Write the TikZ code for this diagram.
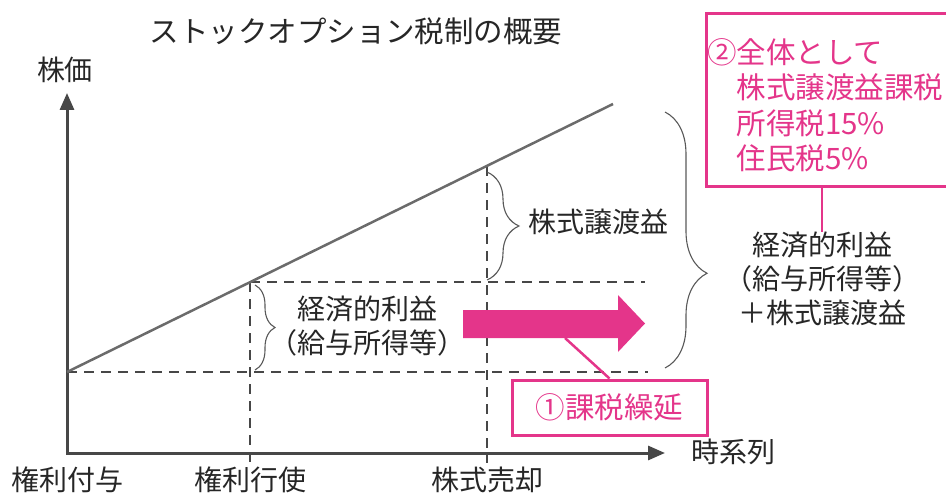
\documentclass[tikz,border=0pt]{standalone}
\usepackage{fontspec}
\setmainfont{Noto Sans CJK JP}
\usetikzlibrary{arrows.meta,decorations.pathreplacing,positioning}
\definecolor{sopink}{HTML}{E4358A}
\definecolor{axisgray}{HTML}{474747}
\definecolor{txtgray}{HTML}{262626}
\tikzset{
  axis/.style={line width=3pt, axisgray},
  price/.style={line width=2.5pt, black!58},
  guide/.style={line width=1.5pt, axisgray, dash pattern=on 10pt off 7pt},
  curly/.style={line width=1.1pt, black!65, decorate, decoration={brace, amplitude=#1}},
  lbl/.style={font=\fontsize{28}{34}\selectfont, text=txtgray, inner sep=0pt},
  pinkbox/.style={draw=sopink, line width=3pt},
  pinktxt/.style={text=sopink, inner sep=0pt, font=\fontsize{29.5}{35.5}\selectfont},
  pinkline/.style={draw=sopink, line width=2.5pt},
}
\begin{document}
\begin{tikzpicture}[x=1pt, y=-1pt]
  \useasboundingbox (0,0) rectangle (946,495);
  \def\xo{67}   % origin
  \def\yo{453}
  \def\yg{372}  % price at grant
  \def\xe{250}  % exercise
  \def\ye{282}
  \def\xs{487}  % sale
  \def\ys{166}
  \node[lbl, font=\fontsize{29.5}{34}\selectfont] (title) at (356,31) {ストックオプション税制の概要};
  \draw[axis, {Triangle[length=17pt,width=14pt]}-{Triangle[length=17pt,width=14pt]}]
    (\xo,93) -- (\xo,\yo) -- (665,\yo);
  \node[lbl] (price) at (65,70) {株価};
  \node[lbl] (time) at (733,452) {時系列};
  \node[lbl] (grantlbl) at (68,480) {権利付与};
  \node[lbl] (exlbl) at (\xe,480) {権利行使};
  \node[lbl] (salelbl) at (\xs,480) {株式売却};
  % guides
  \draw[guide] (\xo,\yg) -- (648,\yg);
  \draw[guide] (\xe,\ye) -- (645,\ye);
  \draw[guide] (\xe,\ye) -- (\xe,463);
  \draw[guide] (\xs,\ys) -- (\xs,463);
  \draw[price] (\xo,\yg) -- (613,104);
  % braces
  \draw[curly=32pt] (\xs,172) -- (\xs,280);
  \node[lbl, anchor=west] (gain) at (528,222) {株式譲渡益};
  \draw[curly=20pt] (255,285) -- (255,370);
  \node[lbl, align=center] (econ) at (367,326) {経済的利益\\（給与所得等）};
  \draw[curly=42pt, decoration={aspect=0.63}] (665,112) -- (665,368);
  \node[lbl, align=center] (sum) at (822,279) {経済的利益\\（給与所得等）\\＋株式譲渡益};
  % deferral
  \fill[sopink] (463,310) -- (618,310) -- (618,295) -- (645,323.5) -- (618,352)
    -- (618,338) -- (463,338) -- cycle;
  \coordinate (defer) at (565,338);
  \node[pinkbox, pinktxt, minimum width=195pt, minimum height=55pt] (taxdefer)
    at (609.5,407.5) {①課税繰延};
  \draw[pinkline] (defer) -- (taxdefer.north);
  % overall
  \node[pinkbox, anchor=north west, minimum width=262pt, minimum height=173pt] (overall)
    at (705,12) {};
  \node[pinktxt, anchor=north west, align=left] (overalltxt) at (707,38)
    {②全体として\\\hspace*{1em}株式譲渡益課税\\\hspace*{1em}所得税15\%\\\hspace*{1em}住民税5\%};
  \draw[pinkline] (overall.south -| sum.north) -- (sum.north);
\end{tikzpicture}
\end{document}
